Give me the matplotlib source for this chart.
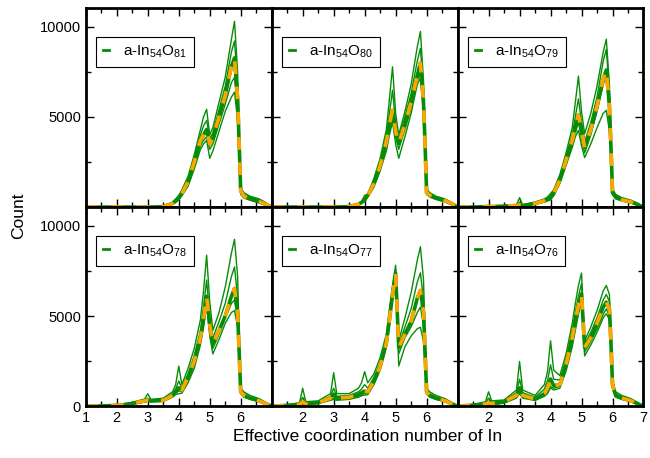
import numpy as np
import matplotlib.pyplot as plt
from matplotlib.lines import Line2D
from matplotlib.ticker import MultipleLocator

plt.rcParams['font.family'] = ['Liberation Sans', 'DejaVu Sans']
plt.rcParams['mathtext.fontset'] = 'custom'
plt.rcParams['mathtext.rm'] = 'Liberation Sans'
plt.rcParams['mathtext.it'] = 'Liberation Sans:italic'
plt.rcParams['mathtext.default'] = 'regular'

# shared grid of coordination numbers
cn = [1.0, 1.5, 1.9, 2.0, 2.1, 2.5, 2.9, 3.0, 3.1, 3.5, 3.8, 3.9, 4.0, 4.1,
      4.3, 4.5, 4.7, 4.8, 4.9, 5.0, 5.1, 5.3, 5.5, 5.7, 5.8, 5.9, 5.95, 6.0,
      6.1, 6.3, 6.6, 6.8, 7.0]

labels = ['a-In$_{54}$O$_{81}$', 'a-In$_{54}$O$_{80}$', 'a-In$_{54}$O$_{79}$',
          'a-In$_{54}$O$_{78}$', 'a-In$_{54}$O$_{77}$', 'a-In$_{54}$O$_{76}$']

# a-In54O81
o81_mean = [0, 0, 0, 0, 0, 0, 0, 0, 0, 20, 200, 330, 500, 750, 1400, 2500, 3700, 4000, 4300,
            3500, 3800, 5000, 6200, 7800, 8270, 6000, 3500, 900, 600, 450, 300, 150, 0]
o81_runs = [
    [0, 0, 0, 0, 0, 0, 0, 0, 0, 30, 280, 450, 650, 950, 1700, 2900, 4300, 5000, 5420,
     4000, 4400, 5800, 7200, 9300, 10300, 7500, 4200, 1100, 800, 600, 450, 250, 0],
    [0, 0, 0, 0, 0, 0, 0, 0, 0, 20, 230, 380, 560, 820, 1550, 2700, 4000, 4500, 4800,
     3800, 4100, 5400, 6700, 8600, 9200, 6800, 3900, 1000, 700, 550, 380, 200, 0],
    [0, 0, 0, 0, 0, 0, 0, 0, 0, 15, 180, 300, 450, 700, 1300, 2300, 3400, 3700, 3900,
     3200, 3500, 4600, 5700, 6900, 7200, 5300, 3200, 800, 550, 420, 250, 120, 0],
    [0, 0, 0, 0, 0, 0, 0, 0, 0, 10, 150, 260, 400, 620, 1150, 2100, 3200, 3500, 3700,
     2700, 3100, 4200, 5300, 6100, 6370, 4800, 2900, 700, 500, 380, 220, 100, 0],
]

# a-In54O80
o80_mean = [0, 0, 0, 0, 0, 0, 0, 0, 0, 20, 150, 250, 400, 650, 1300, 2300, 3600, 4600, 5360,
            4200, 3520, 4600, 5800, 7300, 7990, 5800, 3500, 800, 650, 500, 350, 200, 0]
o80_runs = [
    [0, 0, 0, 0, 0, 0, 0, 0, 0, 30, 200, 320, 650, 700, 1600, 2700, 4300, 6000, 7780,
     5200, 4000, 5300, 6800, 8900, 9740, 7000, 4000, 1000, 800, 600, 450, 250, 0],
    [0, 0, 0, 0, 0, 0, 0, 0, 0, 25, 170, 280, 480, 720, 1450, 2500, 3900, 5200, 6480,
     4600, 3800, 5000, 6300, 8100, 8800, 6400, 3700, 900, 700, 550, 400, 220, 0],
    [0, 0, 0, 0, 0, 0, 0, 0, 0, 15, 130, 220, 350, 600, 1200, 2100, 3300, 4200, 4900,
     3900, 3200, 4300, 5500, 7000, 7400, 5400, 3300, 750, 600, 450, 300, 150, 0],
    [0, 0, 0, 0, 0, 0, 0, 0, 0, 10, 110, 200, 320, 560, 1100, 2000, 3100, 4000, 4700,
     3500, 2700, 3900, 5200, 6800, 7150, 5200, 3100, 700, 550, 420, 280, 130, 0],
]

# a-In54O79
o79_mean = [0, 0, 20, 30, 20, 50, 80, 120, 80, 200, 350, 430, 520, 750, 1500, 2600, 3700, 4400, 5100,
            4300, 3300, 4300, 5600, 7100, 7600, 5600, 3300, 800, 550, 400, 280, 150, 0]
o79_runs = [
    [0, 0, 30, 40, 30, 80, 120, 520, 120, 280, 450, 550, 750, 950, 1800, 3000, 4400, 5800, 7260,
     5300, 4060, 5200, 6700, 8600, 9310, 6800, 4000, 1000, 700, 520, 380, 220, 0],
    [0, 0, 25, 35, 25, 60, 100, 250, 100, 240, 400, 490, 640, 850, 1650, 2800, 4000, 5000, 6000,
     4700, 3600, 4700, 6100, 8100, 8750, 6400, 3700, 900, 650, 450, 320, 180, 0],
    [0, 0, 15, 25, 15, 40, 70, 100, 70, 170, 300, 380, 450, 680, 1400, 2400, 3500, 4100, 4700,
     3800, 3000, 4000, 5300, 6800, 7300, 5400, 3200, 750, 500, 380, 250, 120, 0],
    [0, 0, 10, 20, 10, 30, 50, 80, 50, 150, 270, 330, 400, 620, 1300, 2300, 3300, 3900, 4250,
     3400, 2740, 3500, 4400, 5200, 5360, 4200, 2700, 700, 450, 350, 220, 100, 0],
]

# a-In54O78
o78_mean = [0, 20, 40, 50, 60, 150, 300, 350, 300, 330, 600, 800, 1020, 900, 1600, 2500, 3800, 4800, 6100,
            4500, 3460, 4200, 5000, 6100, 6530, 5200, 3000, 800, 600, 450, 300, 150, 0]
o78_runs = [
    [0, 30, 60, 80, 90, 220, 400, 690, 380, 450, 800, 1200, 2230, 1200, 2100, 3200, 4800, 6400, 8380,
     5800, 4210, 5200, 6600, 8500, 9260, 7200, 4000, 1000, 800, 600, 420, 220, 0],
    [0, 25, 50, 60, 70, 180, 340, 450, 330, 380, 700, 950, 1400, 1000, 1800, 2800, 4200, 5500, 7000,
     5000, 3800, 4700, 5700, 7200, 7730, 6000, 3500, 900, 700, 520, 350, 180, 0],
    [0, 15, 35, 45, 50, 130, 260, 300, 270, 300, 550, 720, 850, 800, 1450, 2300, 3600, 4600, 5900,
     4200, 3200, 4000, 4900, 5700, 5900, 4800, 2800, 750, 550, 400, 270, 130, 0],
    [0, 10, 30, 40, 40, 110, 230, 270, 240, 270, 500, 650, 700, 720, 1300, 2100, 3400, 4400, 5700,
     3900, 2900, 3700, 4600, 5200, 5310, 4400, 2600, 700, 500, 380, 250, 110, 0],
]

# a-In54O77
o77_mean = [0, 50, 100, 250, 120, 200, 450, 670, 450, 500, 650, 750, 840, 800, 1400, 2200, 3500, 4800, 6200,
            7370, 3260, 4000, 4700, 6000, 6420, 5200, 3000, 800, 600, 450, 300, 150, 0]
o77_runs = [
    [0, 80, 200, 1000, 250, 300, 700, 1860, 700, 700, 1000, 1300, 1920, 1300, 1800, 2700, 4000, 5400, 6700,
     7820, 3630, 4900, 6300, 8100, 8850, 7000, 4000, 1000, 800, 600, 420, 220, 0],
    [0, 60, 150, 500, 180, 250, 550, 1000, 550, 600, 800, 950, 1200, 1000, 1600, 2400, 3700, 5000, 6400,
     7600, 3400, 4400, 5400, 6900, 7400, 5900, 3400, 900, 700, 500, 350, 180, 0],
    [0, 40, 80, 150, 100, 170, 380, 450, 380, 420, 560, 650, 700, 700, 1300, 2100, 3400, 4600, 6000,
     7200, 2900, 3800, 4400, 5200, 5500, 4500, 2700, 750, 550, 400, 270, 130, 0],
    [0, 30, 60, 100, 80, 150, 330, 380, 330, 380, 500, 580, 620, 640, 1200, 2000, 3300, 4500, 5900,
     7100, 2230, 3300, 3900, 4300, 4380, 3600, 2200, 700, 500, 380, 250, 110, 0],
]

# a-In54O76
o76_mean = [0, 60, 120, 200, 130, 250, 600, 1020, 600, 400, 700, 1000, 1510, 1150, 1200, 2300, 3800, 4750, 5600,
            6240, 3260, 3800, 4600, 5500, 5770, 5400, 3500, 1200, 600, 450, 300, 150, 0]
o76_runs = [
    [0, 100, 250, 800, 300, 350, 900, 2480, 900, 600, 1200, 1900, 3630, 2000, 1700, 2900, 4600, 5700, 6700,
     7390, 3630, 4400, 5300, 6400, 6700, 6200, 4000, 1400, 800, 600, 420, 220, 0],
    [0, 80, 180, 450, 200, 300, 750, 1500, 750, 500, 950, 1400, 2300, 1500, 1450, 2600, 4200, 5200, 6100,
     6800, 3450, 4100, 4900, 5900, 6200, 5800, 3700, 1300, 700, 520, 350, 180, 0],
    [0, 40, 90, 150, 100, 200, 500, 800, 500, 350, 600, 800, 1100, 1000, 1100, 2100, 3500, 4400, 5300,
     6000, 3000, 3600, 4300, 5100, 5400, 5000, 3300, 1100, 550, 400, 270, 130, 0],
    [0, 30, 70, 100, 80, 170, 450, 700, 450, 320, 550, 700, 1020, 900, 1000, 1950, 3300, 4200, 5100,
     5900, 2790, 3400, 4100, 4900, 5130, 4800, 3100, 1000, 500, 380, 250, 110, 0],
]

means = [o81_mean, o80_mean, o79_mean, o78_mean, o77_mean, o76_mean]
runs = [o81_runs, o80_runs, o79_runs, o78_runs, o77_runs, o76_runs]

green = '#078c07'
orange = '#ffa500'

fig, axes = plt.subplots(2, 3, figsize=(6.5, 4.58), dpi=100)
fig.subplots_adjust(left=0.132, right=0.99, top=0.983, bottom=0.113,
                    wspace=0, hspace=0)

for i, ax in enumerate(axes.flat):
    row, col = divmod(i, 3)
    for r in runs[i]:
        ax.plot(cn, r, color=green, lw=1.0)
    ax.plot(cn, means[i], color=green, lw=2.6)
    ax.plot(cn, means[i], color=orange, lw=2.6, dashes=(3.5, 3.5))

    ax.set_xlim(1, 7)
    ax.set_ylim(0, 11050)
    ax.xaxis.set_minor_locator(MultipleLocator(0.5))
    ax.yaxis.set_minor_locator(MultipleLocator(2500))
    ax.tick_params(which='both', direction='in', top=True, right=True,
                   labelsize=10.5, width=1)
    ax.tick_params(which='major', length=6)
    ax.tick_params(which='minor', length=3.5)
    for s in ax.spines.values():
        s.set_linewidth(2)

    xt = [1, 2, 3, 4, 5, 6, 7]
    ax.set_xticks(xt)
    if row == 1:
        xl = [str(v) for v in xt]
        if col > 0:
            xl[0] = ''
        if col < 2:
            xl[-1] = ''
        ax.set_xticklabels(xl)
    else:
        ax.set_xticklabels([])

    yt = [0, 5000, 10000]
    ax.set_yticks(yt)
    if col == 0:
        yl = [str(v) for v in yt]
        if row == 0:
            yl[0] = ''
        ax.set_yticklabels(yl)
    else:
        ax.set_yticklabels([])

    handle = Line2D([], [], color=green, lw=2)
    leg = ax.legend([handle], [labels[i]], loc='upper left',
                    bbox_to_anchor=(0.055, 0.855), borderaxespad=0,
                    fontsize=11, handlelength=0.4, handletextpad=0.9,
                    borderpad=0.45, fancybox=False, framealpha=1,
                    edgecolor='black')
    leg.get_frame().set_linewidth(0.8)

fig.text(0.028, 0.53, 'Count', rotation=90, ha='center', va='center',
         fontsize=12.5)
fig.text(0.565, 0.046, 'Effective coordination number of In',
         ha='center', va='center', fontsize=12.5)

plt.savefig('out.png', dpi=100)
